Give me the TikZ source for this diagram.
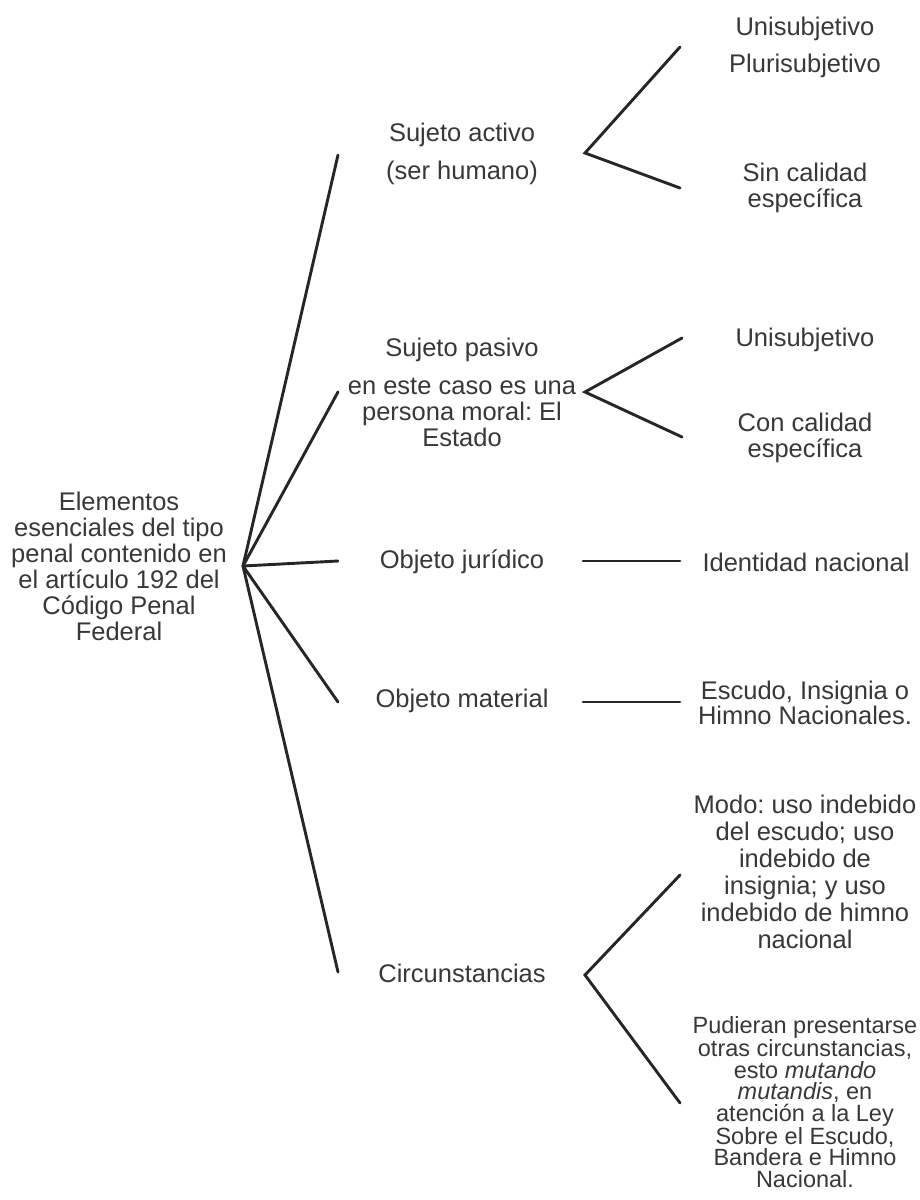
\documentclass[tikz,border=0pt]{standalone}
\usepackage{fontspec}
\setmainfont{Liberation Sans}
\frenchspacing
\begin{document}
\begin{tikzpicture}[x=1pt,y=-1pt,
  lbl/.style={font=\fontsize{25.5}{26}\selectfont, text=black!78, inner sep=0pt, align=center},
  small/.style={font=\fontsize{23.5}{21.6}\selectfont},
  ln/.style={line width=2.9pt, draw=black!85, line cap=round}]
\useasboundingbox (0,0) rectangle (919,1200);
\fill[white] (0,0) rectangle (919,1200);
% coordinates
\coordinate (hub) at (243,566);
\coordinate (e1) at (338,155);
\coordinate (e2) at (338,392);
\coordinate (e3) at (338,561);
\coordinate (e4) at (338,702);
\coordinate (e5) at (338,972);
\coordinate (v1) at (585,153);
\coordinate (a1) at (680,47);
\coordinate (b1) at (680,188);
\coordinate (v2) at (585,392);
\coordinate (a2) at (682,338);
\coordinate (b2) at (682,437);
\coordinate (h1s) at (583,561);
\coordinate (h1e) at (680,561);
\coordinate (h2s) at (583,702);
\coordinate (h2e) at (680,702);
\coordinate (v3) at (585,975);
\coordinate (a3) at (680,875);
\coordinate (b3) at (680,1103);
% nodes
\node[lbl] (root) at (119,566) {Elementos\\esenciales del tipo\\penal contenido en\\el artículo 192 del\\Código Penal\\Federal};
\node[lbl] (sa) at (462,154) {Sujeto activo\\[12pt](ser humano)};
\node[lbl] (sp) at (462,392) {Sujeto pasivo\\[12pt]en este caso es una\\persona moral: El\\Estado};
\node[lbl] (oj) at (462,562) {Objeto jurídico};
\node[lbl] (om) at (462,701) {Objeto material};
\node[lbl] (ci) at (462,973) {Circunstancias};
\node[lbl] (sa1) at (805,47) {Unisubjetivo\\[11pt]Plurisubjetivo};
\node[lbl] (sa2) at (805,188) {Sin calidad\\específica};
\node[lbl] (sp1) at (805,340) {Unisubjetivo};
\node[lbl] (sp2) at (805,438) {Con calidad\\específica};
\node[lbl] (id) at (806,562) {Identidad nacional};
\node[lbl, font=\fontsize{25.5}{22}\selectfont] (es) at (805,703) {Escudo, Insignia o\\Himno Nacionales.};
\node[lbl, font=\fontsize{25.5}{27}\selectfont] (mo) at (805,872) {Modo: uso indebido\\del escudo; uso\\indebido de\\insignia; y uso\\indebido de himno\\nacional};
\node[lbl, small] (pu) at (805,1102) {Pudieran presentarse\\otras circunstancias,\\esto \textit{mutando}\\\textit{mutandis}, en\\atención a la Ley\\Sobre el Escudo,\\Bandera e Himno\\Nacional.};
% connectors
\draw[ln] (hub) -- (e1);
\draw[ln] (hub) -- (e2);
\draw[ln] (hub) -- (e3);
\draw[ln] (hub) -- (e4);
\draw[ln] (hub) -- (e5);
\draw[ln] (a1) -- (v1) -- (b1);
\draw[ln] (a2) -- (v2) -- (b2);
\draw[ln] (h1s) -- (h1e);
\draw[ln] (h2s) -- (h2e);
\draw[ln] (a3) -- (v3) -- (b3);
\end{tikzpicture}
\end{document}
